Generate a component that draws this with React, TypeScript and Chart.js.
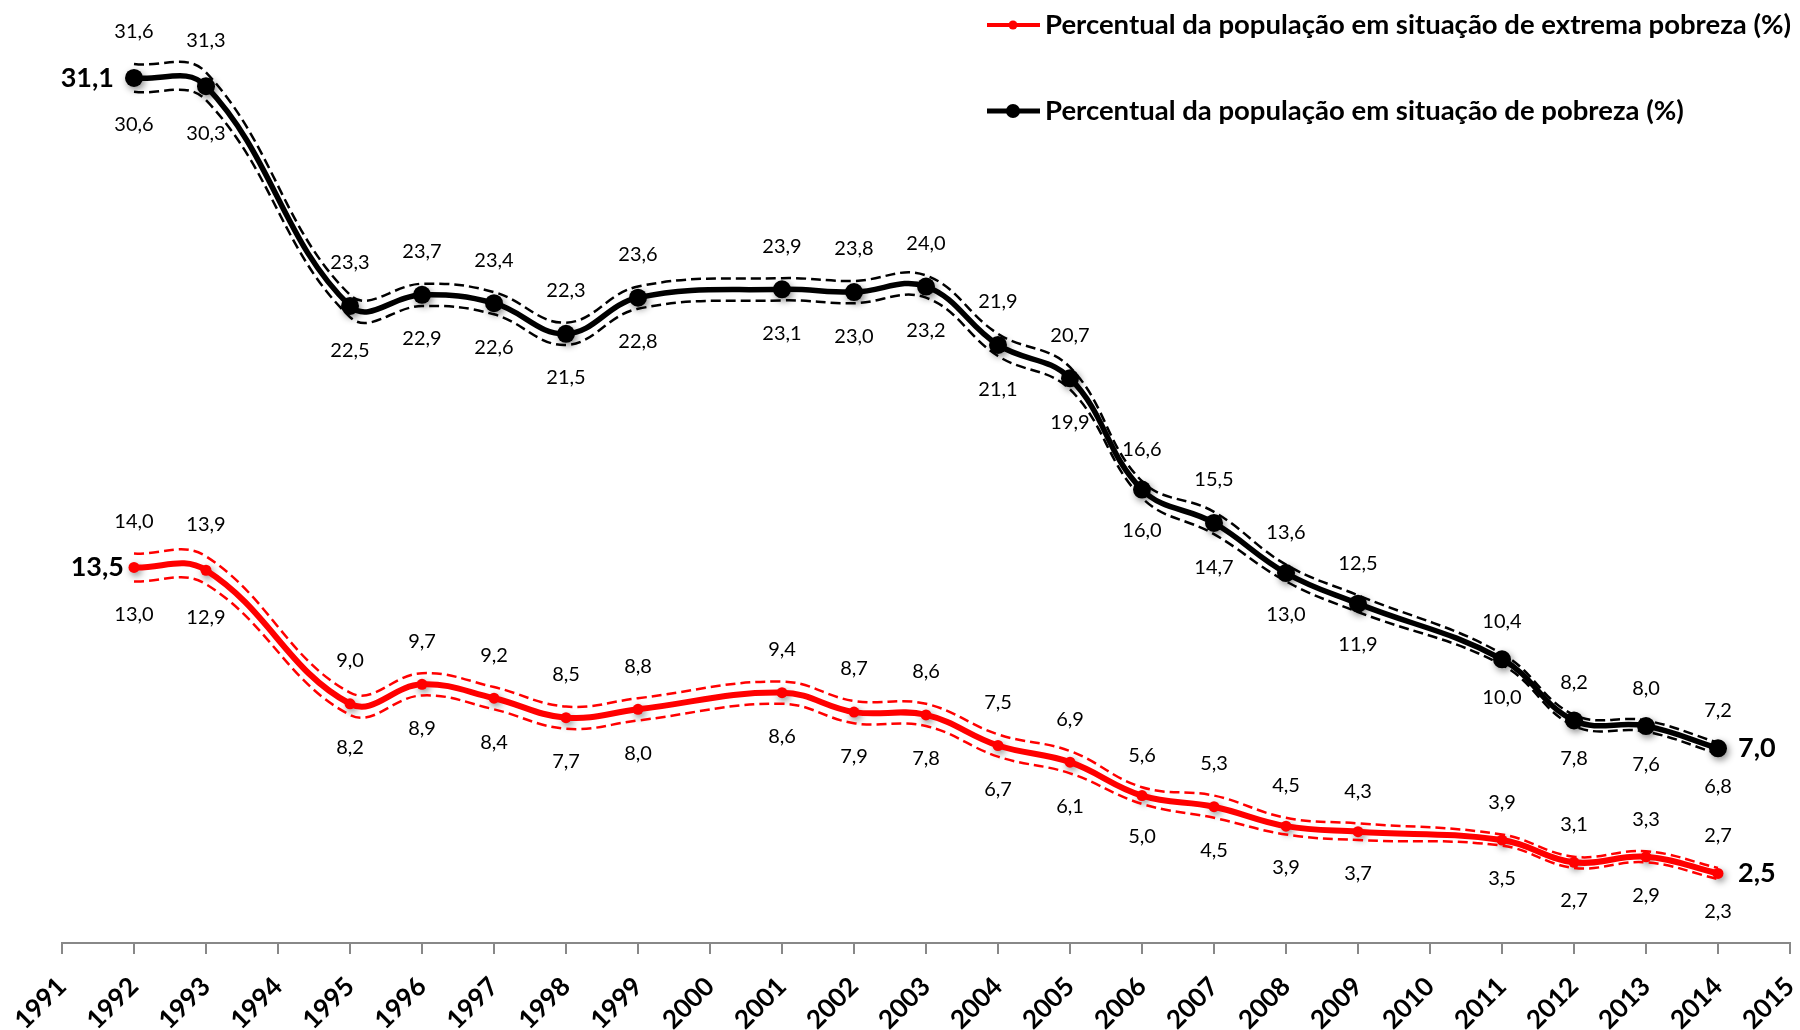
import React, { useEffect, useRef } from 'react';
import { Chart, registerables } from 'chart.js';

Chart.register(...registerables);

const years = [1992, 1993, 1995, 1996, 1997, 1998, 1999, 2001, 2002, 2003, 2004, 2005, 2006, 2007, 2008, 2009, 2011, 2012, 2013, 2014];
const pobreza = [31.1, 30.8, 22.9, 23.3, 23.0, 21.9, 23.2, 23.5, 23.4, 23.6, 21.5, 20.3, 16.3, 15.1, 13.3, 12.2, 10.2, 8.0, 7.8, 7.0];
const pobrezaSup = [31.6, 31.3, 23.3, 23.7, 23.4, 22.3, 23.6, 23.9, 23.8, 24.0, 21.9, 20.7, 16.6, 15.5, 13.6, 12.5, 10.4, 8.2, 8.0, 7.2];
const pobrezaInf = [30.6, 30.3, 22.5, 22.9, 22.6, 21.5, 22.8, 23.1, 23.0, 23.2, 21.1, 19.9, 16.0, 14.7, 13.0, 11.9, 10.0, 7.8, 7.6, 6.8];
const extrema = [13.5, 13.4, 8.6, 9.3, 8.8, 8.1, 8.4, 9.0, 8.3, 8.2, 7.1, 6.5, 5.3, 4.9, 4.2, 4.0, 3.7, 2.9, 3.1, 2.5];
const extremaSup = [14.0, 13.9, 9.0, 9.7, 9.2, 8.5, 8.8, 9.4, 8.7, 8.6, 7.5, 6.9, 5.6, 5.3, 4.5, 4.3, 3.9, 3.1, 3.3, 2.7];
const extremaInf = [13.0, 12.9, 8.2, 8.9, 8.4, 7.7, 8.0, 8.6, 7.9, 7.8, 6.7, 6.1, 5.0, 4.5, 3.9, 3.7, 3.5, 2.7, 2.9, 2.3];
const axisYears = { min: 1991, max: 2015 };
const legendLabels = [
  'Percentual da população em situação de extrema pobreza (%)',
  'Percentual da população em situação de pobreza (%)',
];

const FONT = 'Lato, "Open Sans", "DejaVu Sans", sans-serif';
const RED = '#ff0000';
const BLACK = '#000000';

const pts = (arr: number[]) => arr.map((v, i) => ({ x: years[i], y: v }));
const fmt = (v: number) => v.toFixed(1).replace('.', ',');

const shadowPlugin = {
  id: 'pointShadow',
  beforeDatasetDraw(chart: any, args: any) {
    const ds = chart.data.datasets[args.index];
    if (ds.shadow) {
      const ctx = chart.ctx;
      ctx.save();
      ctx.shadowColor = 'rgba(0,0,0,0.45)';
      ctx.shadowBlur = 7;
      ctx.shadowOffsetX = 2;
      ctx.shadowOffsetY = 3;
    }
  },
  afterDatasetDraw(chart: any, args: any) {
    const ds = chart.data.datasets[args.index];
    if (ds.shadow) chart.ctx.restore();
  },
};

const labelsPlugin = {
  id: 'valueLabels',
  afterDatasetsDraw(chart: any) {
    const ctx = chart.ctx;
    const xs = chart.scales.x;
    const ys = chart.scales.y;
    ctx.save();
    ctx.fillStyle = '#000';
    ctx.textAlign = 'center';
    ctx.textBaseline = 'middle';
    ctx.font = `20px ${FONT}`;
    const series = [
      [pobrezaSup, pobrezaInf],
      [extremaSup, extremaInf],
    ];
    series.forEach(([sup, inf]) => {
      years.forEach((yr, i) => {
        const x = xs.getPixelForValue(yr);
        ctx.fillText(fmt(sup[i]), x, ys.getPixelForValue(sup[i]) - 32);
        ctx.fillText(fmt(inf[i]), x, ys.getPixelForValue(inf[i]) + 33);
      });
    });
    ctx.font = `bold 27px ${FONT}`;
    const last = years.length - 1;
    const ends = [
      { arr: pobreza, gapLeft: 20 },
      { arr: extrema, gapLeft: 10 },
    ];
    ends.forEach(({ arr, gapLeft }) => {
      ctx.textAlign = 'right';
      ctx.fillText(fmt(arr[0]), xs.getPixelForValue(years[0]) - gapLeft, ys.getPixelForValue(arr[0]));
      ctx.textAlign = 'left';
      ctx.fillText(fmt(arr[last]), xs.getPixelForValue(years[last]) + 20, ys.getPixelForValue(arr[last]));
    });
    ctx.restore();
  },
};

const legendPlugin = {
  id: 'customLegend',
  afterDraw(chart: any) {
    const ctx = chart.ctx;
    ctx.save();
    const items = [
      { color: RED, lw: 4, r: 4.5, y: 25, text: legendLabels[0] },
      { color: BLACK, lw: 5, r: 7, y: 111, text: legendLabels[1] },
    ];
    items.forEach((it) => {
      ctx.strokeStyle = it.color;
      ctx.lineWidth = it.lw;
      ctx.beginPath();
      ctx.moveTo(987, it.y);
      ctx.lineTo(1040, it.y);
      ctx.stroke();
      ctx.fillStyle = it.color;
      ctx.beginPath();
      ctx.arc(1013, it.y, it.r, 0, Math.PI * 2);
      ctx.fill();
      ctx.fillStyle = '#000';
      ctx.font = `bold 27.5px ${FONT}`;
      ctx.textAlign = 'left';
      ctx.textBaseline = 'middle';
      ctx.fillText(it.text, 1045, it.y);
    });
    ctx.restore();
  },
};

export default function App() {
  const ref = useRef<HTMLCanvasElement>(null);
  useEffect(() => {
    document.body.style.margin = '0';
    const dashed = (arr: number[], color: string) => ({
      data: pts(arr),
      borderColor: color,
      borderWidth: 2.5,
      borderDash: [10, 5],
      pointRadius: 0,
      tension: 0.4,
      fill: false,
      clip: false,
    });
    const main = (arr: number[], color: string, width: number) => ({
      data: pts(arr),
      borderColor: color,
      borderWidth: width,
      pointRadius: 0,
      tension: 0.4,
      fill: false,
      clip: false,
    });
    const marks = (arr: number[], color: string, r: number) => ({
      data: pts(arr),
      showLine: false,
      pointRadius: r,
      pointBackgroundColor: color,
      pointBorderWidth: 0,
      borderColor: color,
      clip: false,
      shadow: true,
    });
    const chart = new Chart(ref.current as HTMLCanvasElement, {
      type: 'line',
      data: {
        datasets: [
          dashed(extremaSup, RED),
          dashed(extremaInf, RED),
          dashed(pobrezaSup, BLACK),
          dashed(pobrezaInf, BLACK),
          main(extrema, RED, 6),
          main(pobreza, BLACK, 5.5),
          marks(extrema, RED, 5.5),
          marks(pobreza, BLACK, 9),
        ] as any,
      },
      options: {
        animation: false,
        responsive: false,
        maintainAspectRatio: false,
        layout: { autoPadding: false, padding: { left: 62, right: 10, top: 0, bottom: 0 } },
        plugins: { legend: { display: false }, tooltip: { enabled: false } },
        scales: {
          x: {
            type: 'linear',
            min: axisYears.min,
            max: axisYears.max,
            afterFit: (s: any) => {
              s.height = 87;
              s.paddingLeft = 0;
              s.paddingRight = 0;
            },
            ticks: {
              stepSize: 1,
              autoSkip: false,
              maxRotation: 45,
              minRotation: 45,
              color: '#000',
              padding: 17,
              font: { family: FONT, weight: 'bold', size: 26 },
              callback: (v: any) => String(v),
            },
            grid: {
              display: true,
              drawOnChartArea: false,
              drawTicks: true,
              tickLength: 11,
              color: '#888888',
              lineWidth: 2,
            },
            border: { display: true, color: '#888888', width: 2 },
          },
          y: { display: false, min: 0, max: 33.9 },
        },
      } as any,
      plugins: [shadowPlugin, labelsPlugin, legendPlugin],
    });
    return () => chart.destroy();
  }, []);
  return (
    <div style={{ position: 'fixed', left: 0, top: 0, width: 1800, height: 1030, background: '#fff' }}>
      <canvas ref={ref} width={1800} height={1030} style={{ width: 1800, height: 1030, display: 'block' }} />
    </div>
  );
}
